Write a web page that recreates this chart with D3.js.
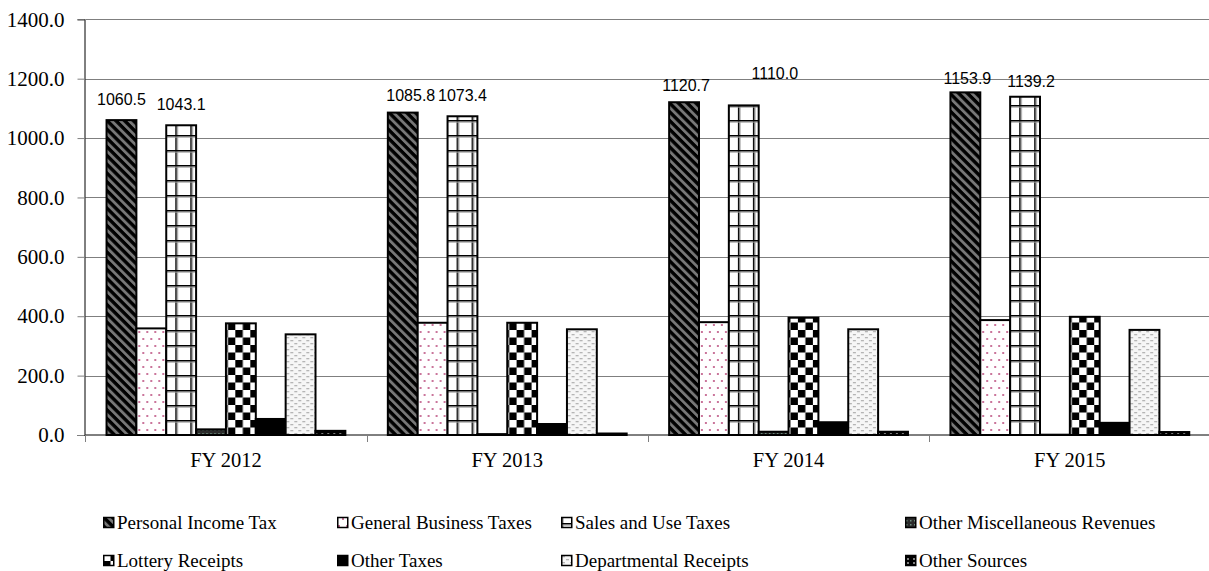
<!DOCTYPE html>
<html>
<head>
<meta charset="utf-8">
<script src="https://cdn.jsdelivr.net/npm/d3@7"></script>
<style>
  body { margin: 0; background: #fff; }
  svg { display: block; }
</style>
</head>
<body>
<svg width="1209" height="571"></svg>
<script>
// categories and series
const years = ["FY 2012", "FY 2013", "FY 2014", "FY 2015"];
const seriesNames = [
	"Personal Income Tax", "General Business Taxes", "Sales and Use Taxes", "Other Miscellaneous Revenues",
	"Lottery Receipts", "Other Taxes", "Departmental Receipts", "Other Sources"
];
const personalIncomeTax = [1060.5, 1085.8, 1120.7, 1153.9];
const generalBusinessTaxes = [359, 378, 380, 387];
const salesAndUseTaxes = [1043.1, 1073.4, 1110.0, 1139.2];
const otherMiscRevenues = [19, 3, 11, 1];
const lotteryReceipts = [376, 378, 395, 398];
const otherTaxes = [54, 37, 43, 41];
const departmentalReceipts = [339, 356, 356, 354];
const otherSources = [14, 5, 11, 10];
const yTicks = [0, 200, 400, 600, 800, 1000, 1200, 1400];
// only these series carry value labels in the original
const labelledSeries = ["Personal Income Tax", "Sales and Use Taxes"];

const seriesValues = [
	personalIncomeTax, generalBusinessTaxes, salesAndUseTaxes, otherMiscRevenues,
	lotteryReceipts, otherTaxes, departmentalReceipts, otherSources
];

// labels were nudged by hand in the original: [dx, dy] per year
const labelNudge = {
	"Personal Income Tax": [[0, 0], [8, 3], [2, 4], [2, 7]],
	"Sales and Use Taxes": [[0, 0], [0, 0], [31, -11], [6, 5]]
};

const svg = d3.select("svg");
const width = +svg.attr("width");

// plot area (right side runs slightly past the picture, as in the original)
const plotLeft = 85.3, plotRight = 1210.5, plotTop = 19.3, plotBottom = 435;

// ---- fill patterns ----
const defs = svg.append("defs");

function pattern(id, w, h, transform) {
	const p = defs.append("pattern")
		.attr("id", id)
		.attr("patternUnits", "userSpaceOnUse")
		.attr("width", w)
		.attr("height", h);
	if (transform) p.attr("patternTransform", transform);
	return p;
}

// Personal Income Tax: grey diagonal stripes on black
let p = pattern("p0", 6.2, 6.2, "rotate(-45)");
p.append("rect").attr("width", 6.2).attr("height", 6.2).attr("fill", "#000");
p.append("rect").attr("width", 2.8).attr("height", 6.2).attr("fill", "#777");

// General Business Taxes: pink dots on white
p = pattern("p1", 8, 14);
p.append("rect").attr("width", 8).attr("height", 14).attr("fill", "#fff");
p.append("circle").attr("cx", 2).attr("cy", 3).attr("r", 1).attr("fill", "#b8477a");
p.append("circle").attr("cx", 6).attr("cy", 10).attr("r", 1).attr("fill", "#b8477a");

// Sales and Use Taxes: large grid
p = pattern("p2", 15, 15);
p.append("rect").attr("width", 15).attr("height", 15).attr("fill", "#fff");
p.append("rect").attr("x", 0).attr("width", 1.6).attr("height", 15).attr("fill", "#000");
p.append("rect").attr("x", 1.6).attr("width", 1).attr("height", 15).attr("fill", "#999");
p.append("rect").attr("y", 0).attr("width", 15).attr("height", 1.6).attr("fill", "#000");
p.append("rect").attr("y", 1.6).attr("width", 15).attr("height", 1).attr("fill", "#999");

// Other Miscellaneous Revenues: dark with small light dots
p = pattern("p3", 4, 4);
p.append("rect").attr("width", 4).attr("height", 4).attr("fill", "#2b2b2b");
p.append("rect").attr("x", 1).attr("y", 1).attr("width", 1.5).attr("height", 1.5).attr("fill", "#6f8f7f");

// Lottery Receipts: checkerboard
p = pattern("p4", 15, 15);
p.append("rect").attr("width", 15).attr("height", 15).attr("fill", "#fff");
p.append("rect").attr("width", 7.5).attr("height", 7.5).attr("fill", "#000");
p.append("rect").attr("x", 7.5).attr("y", 7.5).attr("width", 7.5).attr("height", 7.5).attr("fill", "#000");

// Other Taxes: solid black
p = pattern("p5", 4, 4);
p.append("rect").attr("width", 4).attr("height", 4).attr("fill", "#000");

// Departmental Receipts: light grey dashes
p = pattern("p6", 8, 6);
p.append("rect").attr("width", 8).attr("height", 6).attr("fill", "#f6f6f6");
p.append("rect").attr("x", 1).attr("y", 1).attr("width", 3).attr("height", 1.3).attr("fill", "#b5b5b5");
p.append("rect").attr("x", 5).attr("y", 4).attr("width", 3).attr("height", 1.3).attr("fill", "#b5b5b5");

// Other Sources: black with white dashes
p = pattern("p7", 6, 4);
p.append("rect").attr("width", 6).attr("height", 4).attr("fill", "#000");
p.append("rect").attr("x", 2).attr("y", 1.5).attr("width", 2).attr("height", 1).attr("fill", "#fff");

// ---- scales ----
const x0 = d3.scaleBand().domain(years).range([plotLeft, plotRight]);
const gap = x0.bandwidth() * 0.0755;
const x1 = d3.scaleBand().domain(seriesNames).range([gap, x0.bandwidth() - gap]);
const y = d3.scaleLinear().domain([0, 1400]).range([plotBottom, plotTop]);

// gridlines
svg.append("g")
	.selectAll("line")
	.data(yTicks.filter(d => d > 0))
	.join("line")
	.attr("x1", plotLeft).attr("x2", width)
	.attr("y1", d => Math.round(y(d)) + 0.5).attr("y2", d => Math.round(y(d)) + 0.5)
	.attr("stroke", "#7f7f7f");

// y axis
const yAxis = svg.append("g")
	.attr("transform", `translate(${Math.round(plotLeft) - 0.5},0)`)
	.call(d3.axisLeft(y).tickValues(yTicks).tickFormat(d3.format(".1f")).tickSize(7).tickPadding(13));
yAxis.selectAll("text")
	.attr("font-family", "'Liberation Serif', 'Times New Roman', serif")
	.attr("font-size", 21)
	.attr("fill", "#000");
yAxis.select(".domain").attr("stroke", "#000");
yAxis.selectAll(".tick line").attr("stroke", "#7f7f7f");

// bars
const groups = svg.append("g")
	.selectAll("g")
	.data(years)
	.join("g")
	.attr("transform", d => `translate(${x0(d)},0)`);

groups.selectAll("rect")
	.data((yr, j) => seriesNames.map((s, i) => ({ s, i, v: seriesValues[i][j] })))
	.join("rect")
	.attr("x", d => x1(d.s))
	.attr("width", x1.bandwidth())
	.attr("y", d => y(d.v))
	.attr("height", d => y(0) - y(d.v))
	.attr("fill", d => `url(#p${d.i})`)
	.attr("stroke", "#000")
	.attr("stroke-width", 2);

// value labels
groups.selectAll("text")
	.data((yr, j) => seriesNames.map((s, i) => ({ s, j, v: seriesValues[i][j] }))
		.filter(d => labelledSeries.includes(d.s)))
	.join("text")
	.attr("x", d => x1(d.s) + x1.bandwidth() / 2 + labelNudge[d.s][d.j][0])
	.attr("y", d => y(d.v) - 15 + labelNudge[d.s][d.j][1])
	.attr("text-anchor", "middle")
	.attr("font-family", "'Liberation Sans', Arial, sans-serif")
	.attr("font-size", 16)
	.text(d => d.v.toFixed(1));

// x axis
const xAxis = svg.append("g")
	.attr("transform", `translate(0,${plotBottom})`);
xAxis.append("line")
	.attr("x1", plotLeft).attr("x2", width)
	.attr("stroke", "#000");
xAxis.selectAll(".tick")
	.data(years)
	.join("line")
	.attr("class", "tick")
	.attr("x1", d => Math.round(x0(d)) + 0.5).attr("x2", d => Math.round(x0(d)) + 0.5)
	.attr("y1", 0).attr("y2", 7)
	.attr("stroke", "#7f7f7f");
xAxis.selectAll("text")
	.data(years)
	.join("text")
	.attr("x", d => x0(d) + x0.bandwidth() / 2)
	.attr("y", 32)
	.attr("text-anchor", "middle")
	.attr("font-family", "'Liberation Serif', 'Times New Roman', serif")
	.attr("font-size", 20.5)
	.text(d => d);

// legend: 4 columns, 2 rows
const legendCols = [103, 337, 561, 905];
const legendRows = [523, 561];
const legend = svg.append("g")
	.selectAll("g")
	.data(seriesNames)
	.join("g")
	.attr("transform", (d, i) => `translate(${legendCols[i % 4]},${legendRows[Math.floor(i / 4)]})`);
legend.append("rect")
	.attr("x", 0.75).attr("y", -5.5)
	.attr("width", 10).attr("height", 10)
	.attr("fill", (d, i) => `url(#p${i})`)
	.attr("stroke", "#000")
	.attr("stroke-width", 1.5);
legend.append("text")
	.attr("x", 14)
	.attr("y", 6)
	.attr("font-family", "'Liberation Serif', 'Times New Roman', serif")
	.attr("font-size", 19)
	.text(d => d);
</script>
</body>
</html>
